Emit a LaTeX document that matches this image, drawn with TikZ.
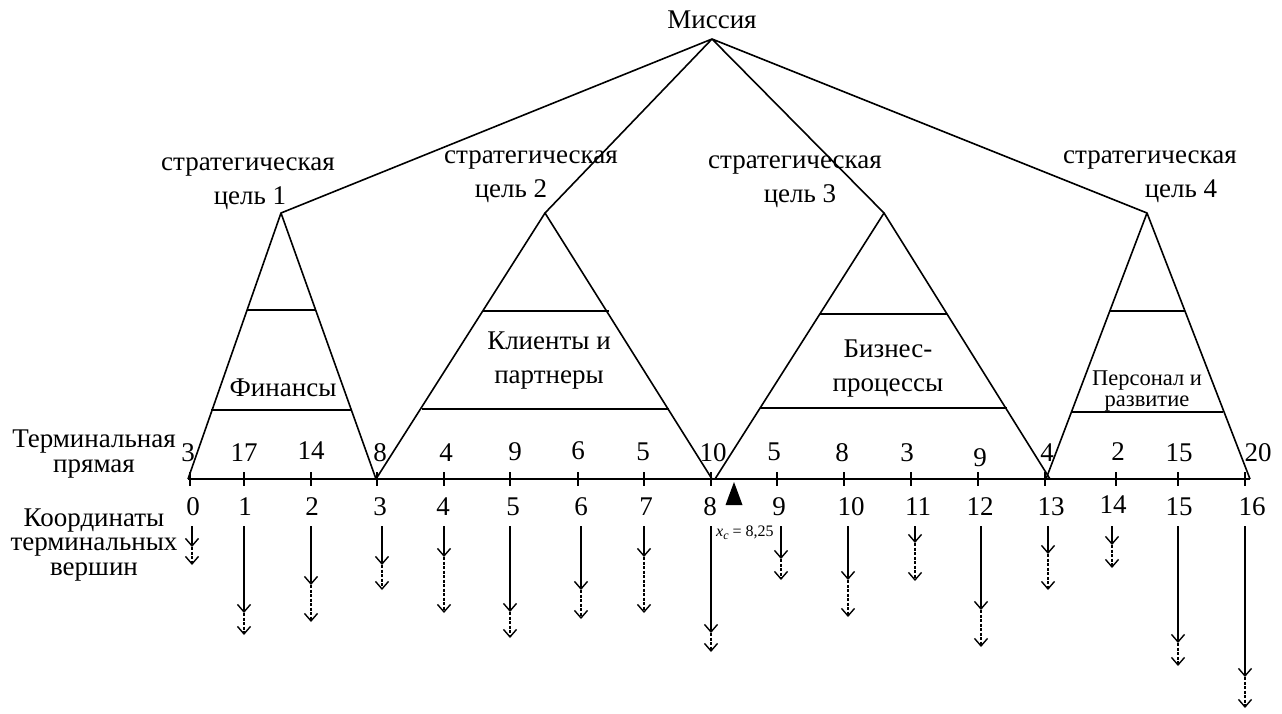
\documentclass[tikz,border=0pt]{standalone}
\usepackage{fontspec}
\setmainfont{Liberation Serif}
\usetikzlibrary{arrows.meta}
\begin{document}
\begin{tikzpicture}[x=1pt,y=-1pt,
  lbl/.style={inner sep=0pt, font=\fontsize{27}{23}\selectfont, align=center},
  small/.style={inner sep=0pt, font=\fontsize{22.5}{20.5}\selectfont, align=center},
  num/.style={inner sep=0pt, font=\fontsize{27}{26}\selectfont},
  edge/.style={line width=1.6pt, line join=round},
  level/.style={line width=1.4pt},
  arr/.style={line width=1.4pt, -{Straight Barb[length=7.5pt,width=13pt,line width=1.4pt]}},
  darr/.style={arr, dash pattern=on 3pt off 1.5pt}]
\useasboundingbox (0,0) rectangle (1282,713);

% mission and goals
\node[lbl] (mis) at (712,20) {Миссия};
\coordinate (M) at (712,39);
\coordinate (G1) at (281,213);
\coordinate (G2) at (545,213);
\coordinate (G3) at (884,213);
\coordinate (G4) at (1147,213);
\draw[edge] (G1) -- (M) -- (G2);
\draw[edge] (G3) -- (M) -- (G4);

\node[lbl] (g1a) at (248,167) {стратегическая};
\node[lbl] (g1b) at (250,198) {цель 1};
\node[lbl] (g2a) at (531,160) {стратегическая};
\node[lbl] (g2b) at (511,191) {цель 2};
\node[lbl] (g3a) at (795,165) {стратегическая};
\node[lbl] (g3b) at (800,196) {цель 3};
\node[lbl] (g4a) at (1150,160) {стратегическая};
\node[lbl] (g4b) at (1181,191) {цель 4};

% base points
\coordinate (L1) at (188,479); \coordinate (R1) at (376,479);
\coordinate (L2) at (376,479); \coordinate (R2) at (712,479);
\coordinate (L3) at (715,479); \coordinate (R3) at (1050,479);
\coordinate (L4) at (1046,479); \coordinate (R4) at (1250,479);
\draw[edge] (L1) -- (G1) -- (R1);
\draw[edge] (L2) -- (G2) -- (R2);
\draw[edge] (L3) -- (G3) -- (R3);
\draw[edge] (L4) -- (G4) -- (R4);

% level lines
\draw[level] (247,310) -- (316,310);
\draw[level] (211,410) -- (352,410);
\draw[level] (483,311) -- (609,311);
\draw[level] (422,409) -- (669,409);
\draw[level] (820,314) -- (947,314);
\draw[level] (760,408) -- (1007,408);
\draw[level] (1110,311) -- (1185,311);
\draw[level] (1071,412) -- (1223,412);

\node[lbl] (fin) at (283,388) {Финансы};
\node[lbl, font=\fontsize{27}{34}\selectfont] (cli) at (549,361) {Клиенты и\\партнеры};
\node[lbl, font=\fontsize{27}{34}\selectfont] (biz) at (888,369) {Бизнес-\\процессы};
\node[small] (per) at (1147,391) {Персонал и\\развитие};

% terminal line
\draw[line width=1.7pt] (L1) -- (R4);
\foreach \x in {190,244,311,377,444,510,578,644,711,777,844,911,978,1045,1116,1178,1245}
  \draw[line width=1.4pt] (\x,472) -- (\x,486);

% weights
\foreach \t/\x/\y [count=\i] in {3/188/453,17/244/453,14/311/451,8/380/453,4/446/453,9/515/452,6/578/451,5/643/452,10/713/453,5/774/452,8/842/453,3/907/453,9/980/458,4/1047/453,2/1118/452,15/1179/453,20/1258/453}
  \node[num] (w\i) at (\x,\y) {\t};

% coordinates
\foreach \t/\x/\y in {0/193/507,1/245/507,2/312/507,3/380/507,4/443/507,5/513/507,6/581/507,7/646/507,8/710/507,9/779/507,10/851/507,11/918/507,12/980/507,13/1051/507,14/1113/505,15/1179/507,16/1252/507}
  \node[num] (c\t) at (\x,\y) {\t};

% arrows
\foreach \i/\x/\m/\e in {0/192/547/565,1/244/613/635,2/311/585/622,3/382/565/590,4/444/557/613,5/510/612/638,6/581/590/619,7/644/557/613,8/711/633/652,9/781/559/580,10/848/580/617,11/915/543/581,12/981/610/647,13/1048/554/590,14/1112/545/568,15/1178/643/666,16/1245/677/708}
{
  \coordinate (s\i) at (\x,526);
  \coordinate (m\i) at (\x,\m);
  \coordinate (e\i) at (\x,\e);
  \draw[arr] (s\i) -- (m\i);
  \draw[darr] (m\i) -- (e\i);
}

% left labels
\node[lbl, font=\fontsize{27}{24.5}\selectfont] (term) at (94,454) {Терминальная\\прямая};
\node[lbl, font=\fontsize{27}{24.5}\selectfont] (crd) at (94,545) {Координаты\\терминальных\\вершин};

% centre of gravity
\fill (734,482) -- (742.5,505) -- (725.5,505) -- cycle;
\node[inner sep=0pt, font=\fontsize{16}{16}\selectfont, anchor=west] (xc) at (716,533) {\textit{x}\raisebox{-0.35ex}{\fontsize{12}{12}\selectfont\textit{c}} = 8,25};
\end{tikzpicture}
\end{document}
